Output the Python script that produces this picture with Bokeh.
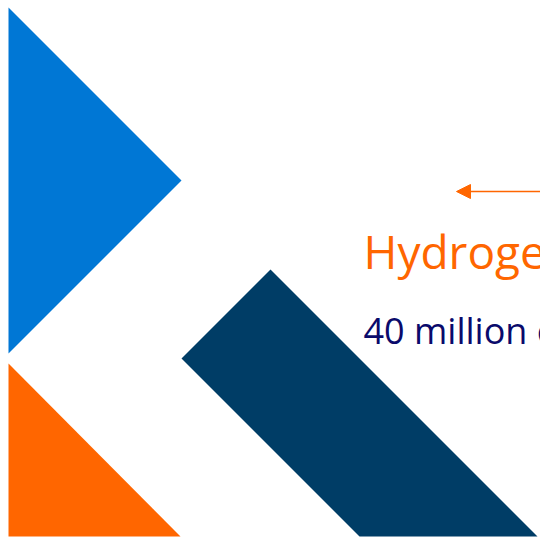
from bokeh.plotting import figure
from bokeh.models import Range1d, Arrow, NormalHead
from bokeh.core.properties import value
from bokeh.embed import file_html
from bokeh.resources import INLINE

W, H = 540, 541

# shape vertices (page-pixel coordinates, y downward)
blue_x = [8, 181, 8]
blue_y = [7, 180, 353]
orange_x = [8, 180, 8]
orange_y = [363, 536, 536]
navy_x = [181, 270, 537, 359]
navy_y = [358, 269, 536, 536]

arrow_start = (540, 191)
arrow_end = (456, 191)

title_text = ["Hydrogen"]
sub_text = ["40 million cubic metres"]

p = figure(width=W, height=H, output_backend="svg", toolbar_location=None,
           x_range=Range1d(0, W), y_range=Range1d(H, 0),
           min_border=0, outline_line_color=None)
p.axis.visible = False
p.grid.visible = False
p.background_fill_color = "white"
p.border_fill_color = "white"

p.patch(blue_x, blue_y, fill_color="#0077D5", line_color=None)
p.patch(orange_x, orange_y, fill_color="#FF6600", line_color=None)
p.patch(navy_x, navy_y, fill_color="#003D66", line_color=None)

p.add_layout(Arrow(x_start=arrow_start[0], y_start=arrow_start[1],
                   x_end=arrow_end[0], y_end=arrow_end[1],
                   line_color="#FF6600", line_width=1.5,
                   end=NormalHead(size=14, fill_color="#FF6600", line_color="#FF6600")))

p.text(x=[363], y=[250], text=title_text, text_font=value("Open Sans"),
       text_font_size="46px", text_color="#FF6600", text_baseline="alphabetic")
p.text(x=[363], y=[330], text=sub_text, text_font=value("Open Sans"),
       text_font_size="36px", text_color="#0A0A6B", text_baseline="alphabetic")

open("out.html", "w").write(file_html(p, INLINE))
